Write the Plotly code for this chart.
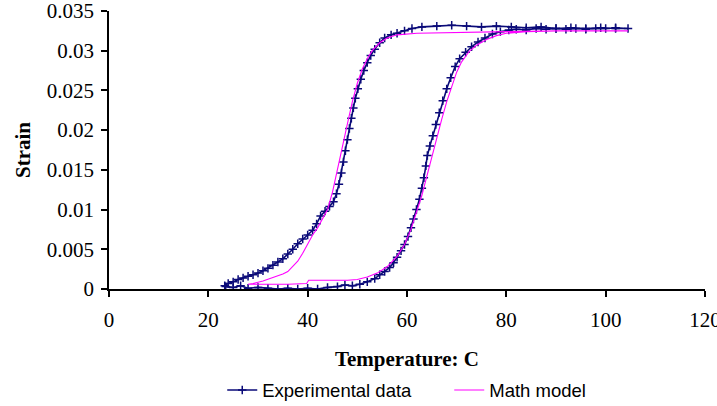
import plotly.graph_objects as go

# Experimental data: heating branch then cooling branch (Temperature C, Strain)
exp_heat_T = [23.5, 25, 26.5, 28, 30, 32, 34, 36, 38, 40, 42, 44, 46, 47.5, 49, 50.5,
              52, 53.5, 54.5, 55.5, 56.5, 57.3, 58, 58.8, 59.5, 60.2, 60.8, 61.3, 61.9,
              62.5, 63.0, 63.4, 63.8, 64.1, 64.6, 65.2, 65.8, 66.5, 67.2, 68.0, 68.8,
              69.7, 70.6, 71.8, 73.0, 74.3, 75.7, 77.2, 78.8, 80.5, 82, 84, 86, 88, 90,
              92, 94, 96, 98, 100, 102, 104.5]
exp_heat_S = [0.0003, 0.0002, 0.0004, 0.0001, 0.0002, 0.0001, 0.0000, 0.0001, 0.0000,
              0.0001, 0.0000, 0.0002, 0.0003, 0.0005, 0.0004, 0.0006, 0.0009, 0.0013,
              0.0018, 0.0022, 0.0027, 0.0033, 0.0040, 0.0048, 0.0056, 0.0066, 0.0077,
              0.0088, 0.0100, 0.0113, 0.0127, 0.0140, 0.0155, 0.0168, 0.0180, 0.0193,
              0.0207, 0.0222, 0.0237, 0.0252, 0.0266, 0.0280, 0.0290, 0.0298, 0.0305,
              0.0311, 0.0316, 0.0321, 0.0324, 0.0326, 0.0327, 0.0326, 0.0328, 0.0327,
              0.0328, 0.0327, 0.0328, 0.0327, 0.0328, 0.0328, 0.0329, 0.0328]
exp_cool_T = [102, 99, 96, 93, 90, 87, 84, 81, 78, 75, 72, 69, 66, 63, 61, 59.5, 58,
              56.8, 55.5, 54.5, 53.5, 52.7, 52.0, 51.3, 50.7, 50.1, 49.6, 49.2, 48.8,
              48.4, 48.0, 47.6, 47.2, 46.8, 46.3, 45.8, 45.2, 44.4, 43.5, 42.6, 41.8,
              41.0, 40.0, 39.0, 38.0, 37.0, 36.0, 35.0, 34.0, 33.0, 32.0, 31.0, 30.0,
              29.0, 28.0, 27.0, 26.0, 25.0, 24.0, 23.3]
exp_cool_S = [0.0328, 0.0329, 0.0328, 0.0329, 0.0328, 0.0330, 0.0329, 0.0330, 0.0331,
              0.0330, 0.0331, 0.0332, 0.0331, 0.0330, 0.0328, 0.0325, 0.0322, 0.0320,
              0.0316, 0.0310, 0.0302, 0.0294, 0.0285, 0.0275, 0.0264, 0.0252, 0.0240,
              0.0228, 0.0215, 0.0202, 0.0188, 0.0174, 0.0160, 0.0146, 0.0132, 0.0120,
              0.0110, 0.0104, 0.0098, 0.0092, 0.0082, 0.0074, 0.0068, 0.0063, 0.0057,
              0.0050, 0.0044, 0.0038, 0.0034, 0.0030, 0.0026, 0.0023, 0.0020, 0.0018,
              0.0016, 0.0014, 0.0012, 0.0009, 0.0007, 0.0004]

# Math model: heating branch then cooling branch
mod_heat_T = [28, 32, 36, 39.8, 40.2, 44, 48, 50, 52, 54, 56, 58, 59.5, 60.8, 62, 63,
              64, 65, 66, 67, 68, 69, 70, 71, 72.5, 74, 76, 78, 80, 84, 90, 100, 104.5]
mod_heat_S = [0.0006, 0.0006, 0.0006, 0.0007, 0.0011, 0.0011, 0.0011, 0.0012, 0.0015,
              0.0020, 0.0028, 0.0041, 0.0056, 0.0075, 0.0097, 0.0118, 0.0142, 0.0167,
              0.0191, 0.0214, 0.0236, 0.0256, 0.0273, 0.0286, 0.0299, 0.0307, 0.0314,
              0.0319, 0.0322, 0.0324, 0.0325, 0.0325, 0.0325]
mod_cool_T = [104.5, 90, 80, 70, 62, 58, 56, 54.5, 53, 52, 51, 50, 49, 48, 47, 46, 45,
              44, 43, 42, 41, 40, 39, 38, 37, 36, 35, 33, 31, 29, 28]
mod_cool_S = [0.0325, 0.0325, 0.0324, 0.0323, 0.0322, 0.0320, 0.0316, 0.0310, 0.0300,
              0.0290, 0.0277, 0.0259, 0.0236, 0.0208, 0.0178, 0.0148, 0.0122, 0.0100,
              0.0088, 0.0077, 0.0068, 0.0056, 0.0045, 0.0035, 0.0028, 0.0022, 0.0019,
              0.0014, 0.0010, 0.0007, 0.0006]

x_ticks = [0, 20, 40, 60, 80, 100, 120]
y_ticks = [0, 0.005, 0.01, 0.015, 0.02, 0.025, 0.03, 0.035]
y_tick_labels = ["0", "0.005", "0.01", "0.015", "0.02", "0.025", "0.03", "0.035"]

NAVY = "#0a0a78"
MAGENTA = "#ff00ff"

fig = go.Figure()
fig.add_trace(go.Scatter(
    x=exp_heat_T + exp_cool_T, y=exp_heat_S + exp_cool_S,
    mode="lines+markers", name="Experimental data",
    line=dict(color=NAVY, width=1.6),
    marker=dict(symbol="cross-thin", size=6, line=dict(color=NAVY, width=1.5)),
))
fig.add_trace(go.Scatter(
    x=mod_heat_T + mod_cool_T, y=mod_heat_S + mod_cool_S,
    mode="lines", name="Math model",
    line=dict(color=MAGENTA, width=1.1),
))

axis_common = dict(
    showgrid=False, zeroline=False, showline=True, linecolor="black", linewidth=1.5,
    ticks="outside", ticklen=6, tickwidth=1.5, tickcolor="black", automargin=False,
    ticklabeloverflow="allow",
    tickfont=dict(family="Liberation Serif", size=21, color="black"),
)
fig.update_xaxes(range=[0, 120], tickvals=x_ticks, ticktext=[str(v) for v in x_ticks],
                 ticklabelstandoff=5,
                 title=dict(text="<b>Temperature: C</b>", standoff=20,
                            font=dict(family="Liberation Serif", size=21, color="black")),
                 **axis_common)
fig.update_yaxes(range=[0, 0.035], tickvals=y_ticks, ticktext=y_tick_labels,
                 ticklabelstandoff=3,
                 title=dict(text="<b>Strain</b>", standoff=10,
                            font=dict(family="Liberation Serif", size=21, color="black")),
                 **axis_common)

fig.update_layout(
    width=717, height=406,
    margin=dict(l=109, r=12, t=11, b=117, autoexpand=False),
    paper_bgcolor="white", plot_bgcolor="white",
    showlegend=True,
    legend=dict(orientation="h", x=0.19, xanchor="left", y=-0.365, yanchor="middle",
                font=dict(family="Liberation Sans", size=18.5, color="black"),
                entrywidth=182, entrywidthmode="pixels",
                itemwidth=30, bgcolor="rgba(0,0,0,0)"),
)

fig.write_html("out.html", config={"displayModeBar": False},
               post_script="document.body.style.margin='0px';")
